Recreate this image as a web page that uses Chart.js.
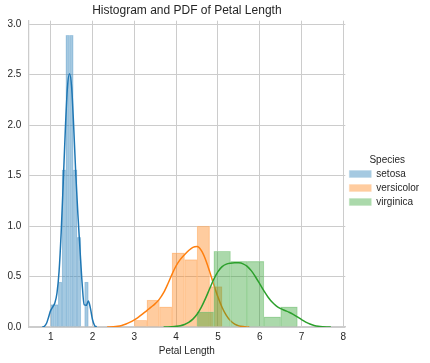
<!DOCTYPE html>
<html>
<head>
<meta charset="utf-8">
<script src="https://cdn.jsdelivr.net/npm/chart.js@4.4.1/dist/chart.umd.min.js"></script>
<style>
html,body{margin:0;padding:0;background:#ffffff;}
#wrap{width:430px;height:363px;}
</style>
</head>
<body>
<div id="wrap"><canvas id="c" width="430" height="363"></canvas></div>
<script>
// ---- data ----
const speciesNames = ['setosa', 'versicolor', 'virginica'];

// histogram bins (centres) and densities
const setosaBinCenters = [1.045, 1.135, 1.225, 1.315, 1.405, 1.495, 1.585, 1.675, 1.765, 1.855];
const setosaDensity    = [0.222, 0.222, 0.444, 1.556, 2.889, 2.889, 1.556, 0.889, 0.0, 0.444];

const versicolorBinCenters = [3.15, 3.45, 3.75, 4.05, 4.35, 4.65, 4.95];
const versicolorDensity    = [0.0667, 0.2667, 0.2, 0.7333, 0.6667, 1.0, 0.4];

const virginicaBinCenters = [4.7, 5.1, 5.5, 5.9, 6.3, 6.7];
const virginicaDensity    = [0.15, 0.75, 0.65, 0.65, 0.1, 0.2];

// density curves
const setosaKdeX = [0.80,0.85,0.90,0.95,1.00,1.05,1.10,1.15,1.20,1.25,1.30,1.35,1.40,1.45,1.50,1.55,1.60,1.65,1.70,1.75,1.80,1.85,1.90,1.95,2.00,2.05,2.10];
const setosaKdeY = [0.0008,0.0074,0.0366,0.0999,0.1644,0.2000,0.2399,0.3368,0.5514,0.9361,1.4370,1.9609,2.3741,2.5087,2.3757,1.9756,1.5077,1.1138,0.7705,0.4367,0.2202,0.2147,0.2573,0.1852,0.0715,0.0147,0.0016];

const versicolorKdeX = [2.35,2.4,2.5,2.6,2.7,2.8,2.9,3.0,3.1,3.2,3.3,3.4,3.5,3.6,3.7,3.8,3.9,4.0,4.1,4.2,4.3,4.4,4.5,4.6,4.7,4.8,4.9,5.0,5.1,5.2,5.3,5.4,5.5,5.6,5.7,5.75];
const versicolorKdeY = [0.0004,0.0008,0.0026,0.0070,0.0157,0.0295,0.0482,0.0711,0.0982,0.1293,0.1628,0.1964,0.2316,0.2760,0.3399,0.4257,0.5213,0.6065,0.6698,0.7161,0.7570,0.7890,0.7962,0.7583,0.6715,0.5508,0.4191,0.2961,0.1933,0.1149,0.0610,0.0283,0.0112,0.0038,0.0010,0.0005];

const virginicaKdeX = [3.7,3.8,3.9,4.0,4.1,4.2,4.3,4.4,4.5,4.6,4.7,4.8,4.9,5.0,5.1,5.2,5.3,5.4,5.5,5.6,5.7,5.8,5.9,6.0,6.1,6.2,6.3,6.4,6.5,6.6,6.7,6.8,6.9,7.0,7.1,7.2,7.3,7.4,7.5,7.6,7.7];
const virginicaKdeY = [0.0004,0.0010,0.0027,0.0063,0.0132,0.0254,0.0457,0.0778,0.1262,0.1941,0.2807,0.3781,0.4725,0.5488,0.5984,0.6231,0.6323,0.6355,0.6350,0.6256,0.6000,0.5556,0.4954,0.4266,0.3575,0.2950,0.2443,0.2073,0.1822,0.1637,0.1460,0.1249,0.0998,0.0731,0.0486,0.0292,0.0157,0.0075,0.0032,0.0012,0.0004];

// ticks
const xTickValues = [1, 2, 3, 4, 5, 6, 7, 8];
const xTickLabels = ['1', '2', '3', '4', '5', '6', '7', '8'];
const yTickValues = [0, 0.5, 1.0, 1.5, 2.0, 2.5, 3.0];
const yTickLabels = ['0.0', '0.5', '1.0', '1.5', '2.0', '2.5', '3.0'];

// ---- chart ----
const FONT = "'Liberation Sans', Arial, sans-serif";
const TXT = '#262626';
const GRID = '#cccccc';
const X_MIN = 0.466, X_MAX = 8.046, Y_MAX = 3.033;

Chart.defaults.font.family = FONT;
Chart.defaults.color = TXT;

const pts = (xs, ys) => xs.map((x, i) => ({x: x, y: ys[i]}));

const fills  = ['rgba(31,119,180,0.4)', 'rgba(255,127,14,0.4)', 'rgba(44,160,44,0.4)'];
const edges  = ['rgba(171,204,227,0.64)', 'rgba(255,207,165,0.64)', 'rgba(176,219,176,0.64)'];
const lines  = ['#1f77b4', '#ff7f0e', '#2ca02c'];

function histDataset(idx, centers, dens, axisId, order) {
  return {
    type: 'bar', label: speciesNames[idx], data: pts(centers, dens),
    xAxisID: axisId, yAxisID: 'y',
    backgroundColor: fills[idx], borderColor: edges[idx], borderWidth: 0.5,
    barPercentage: 1, categoryPercentage: 1, grouped: false, order: order
  };
}
function kdeDataset(idx, xs, ys, order) {
  return {
    type: 'line', label: speciesNames[idx] + ' pdf', data: pts(xs, ys),
    xAxisID: 'x', yAxisID: 'y',
    borderColor: lines[idx], borderWidth: 1.5, pointRadius: 0, pointHoverRadius: 0,
    fill: false, cubicInterpolationMode: 'monotone', order: order
  };
}

const setXTicks = s => { s.ticks = xTickValues.map(v => ({value: v})); };
function hiddenX() {
  return { type: 'linear', axis: 'x', display: false, min: X_MIN, max: X_MAX, offset: false,
           grid: {offset: false}, afterBuildTicks: setXTicks };
}

new Chart(document.getElementById('c'), {
  type: 'bar',
  data: {
    datasets: [
      histDataset(0, setosaBinCenters, setosaDensity, 'xs', 6),
      histDataset(1, versicolorBinCenters, versicolorDensity, 'xv', 4),
      histDataset(2, virginicaBinCenters, virginicaDensity, 'xg', 2),
      kdeDataset(0, setosaKdeX, setosaKdeY, 5),
      kdeDataset(1, versicolorKdeX, versicolorKdeY, 3),
      kdeDataset(2, virginicaKdeX, virginicaKdeY, 1)
    ]
  },
  options: {
    responsive: false,
    devicePixelRatio: 1,
    animation: false,
    layout: { padding: { left: 0, right: 0.9, top: 0, bottom: 0 } },
    scales: {
      x: {
        type: 'linear', axis: 'x', position: 'bottom', min: X_MIN, max: X_MAX, offset: false,
        afterBuildTicks: setXTicks,
        ticks: { font: {size: 10}, color: TXT, padding: 4, maxRotation: 0, autoSkip: false,
                 callback: (v, i) => xTickLabels[i] },
        grid: { color: GRID, lineWidth: 1, drawTicks: false, offset: false },
        border: { color: GRID, width: 1.25 },
        title: { display: true, text: 'Petal Length', font: {size: 10}, color: TXT, padding: {top: 0, bottom: 6} },
        afterFit: s => { s.height = 36; }
      },
      xs: hiddenX(), xv: hiddenX(), xg: hiddenX(),
      y: {
        type: 'linear', axis: 'y', position: 'left', min: 0, max: Y_MAX,
        afterBuildTicks: s => { s.ticks = yTickValues.map(v => ({value: v})); },
        ticks: { font: {size: 10}, color: TXT, padding: 7, callback: (v, i) => yTickLabels[i] },
        grid: { color: GRID, lineWidth: 1, drawTicks: false },
        border: { color: GRID, width: 1.25 },
        afterFit: s => { s.width = 28.4; }
      }
    },
    plugins: {
      tooltip: { enabled: false },
      title: {
        display: true, text: 'Histogram and PDF of Petal Length', fullSize: false,
        font: { size: 12, weight: 'normal' }, color: TXT, padding: { top: 3.8, bottom: 2.5 }
      },
      legend: {
        position: 'right', align: 'center',
        labels: {
          boxWidth: 22, boxHeight: 7, padding: 4, font: {size: 10}, color: TXT,
          filter: item => item.datasetIndex < 3,
          sort: (a, b) => a.datasetIndex - b.datasetIndex
        },
        title: { display: true, text: 'Species', font: {size: 10, lineHeight: 1}, color: TXT,
                 padding: { top: 3, bottom: 0 } }
      }
    }
  }
});
</script>
</body>
</html>
